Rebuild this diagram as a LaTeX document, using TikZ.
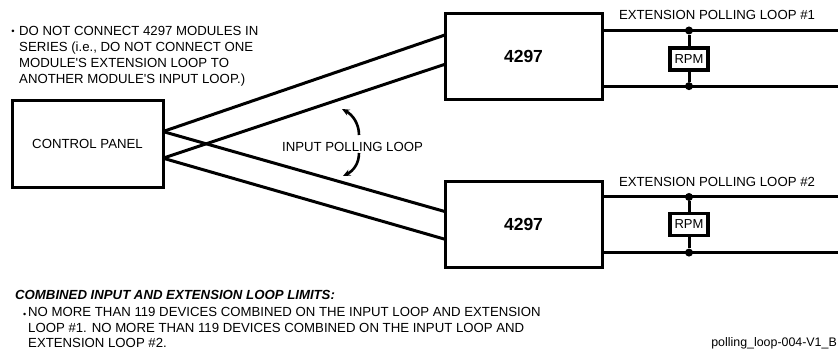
\documentclass[tikz,border=0pt]{standalone}
\usepackage{fontspec}
\setmainfont{Liberation Sans}
\usetikzlibrary{arrows.meta}
\begin{document}
\begin{tikzpicture}[x=1pt,y=-1pt,
  txt/.style={font=\fontsize{13.2}{16}\selectfont, inner sep=0pt},
  box/.style={draw, line width=3pt, outer sep=0pt, inner sep=0pt, font=\fontsize{13.2}{16}\selectfont},
  modbox/.style={box, minimum width=157pt, minimum height=86pt, font=\fontsize{17.5}{20}\selectfont\bfseries},
  rpmbox/.style={box, line width=3.2pt, fill=white, minimum width=38pt, minimum height=22pt, font=\fontsize{13}{14}\selectfont},
  wire/.style={line width=3pt},
  dot/.style={circle, fill, inner sep=0pt, minimum size=8pt},
  turn/.style={line width=2.6pt, -{Stealth[length=7.5pt,width=6.5pt]}}]
\useasboundingbox (0,0) rectangle (838,351);

% top note
\node[txt, anchor=north west, align=left] (note) at (19,26.3)
  {\llap{\raisebox{1.5pt}{\fontsize{9.5}{10}\selectfont •}\hspace{4.5pt}}DO NOT CONNECT 4297 MODULES IN\\
   SERIES (i.e., DO NOT CONNECT ONE\\
   MODULE\textquotesingle S EXTENSION LOOP TO\\
   ANOTHER MODULE\textquotesingle S INPUT LOOP.)};

% nodes
\node[box, minimum width=151pt, minimum height=87pt] (cp) at (87.5,143.5) {CONTROL PANEL};
\node[modbox] (m1) at (523.5,56) {4297};
\node[modbox] (m2) at (523.5,224) {4297};
\coordinate (redge) at (838,0);

% input loop wires
\draw[wire] (cp.9.4) -- (m1.165.7);
\draw[wire] (cp.-11.6) -- (m1.186.5);
\draw[wire] (cp.9.4) -- (m2.171.3);
\draw[wire] (cp.-11.6) -- (m2.191.5);

% extension loop 1
\draw[wire] (m1.18.3) -- (m1.18.3 -| redge);
\draw[wire] (m1.-21.5) -- (m1.-21.5 -| redge);
\node[rpmbox] (rpm1) at (689,59) {RPM};
\node[dot] (d1a) at (m1.18.3 -| rpm1) {};
\node[dot] (d1b) at (m1.-21.5 -| rpm1) {};
\draw[wire] (d1a) -- (rpm1);
\draw[wire] (rpm1) -- (d1b);
\node[txt] (ext1) at (717,15) {EXTENSION POLLING LOOP \#1};

% extension loop 2
\draw[wire] (m2.19.6) -- (m2.19.6 -| redge);
\draw[wire] (m2.-20.3) -- (m2.-20.3 -| redge);
\node[rpmbox] (rpm2) at (689,224.5) {RPM};
\node[dot] (d2a) at (m2.19.6 -| rpm2) {};
\node[dot] (d2b) at (m2.-20.3 -| rpm2) {};
\draw[wire] (d2a) -- (rpm2);
\draw[wire] (rpm2) -- (d2b);
\node[txt] (ext2) at (717,182) {EXTENSION POLLING LOOP \#2};

% input polling loop label with arrows
\node[txt] (ipl) at (352.5,147) {INPUT POLLING LOOP};
\coordinate (au0) at (359,135);
\coordinate (au1) at (342,109);
\coordinate (al0) at (359,153);
\coordinate (al1) at (343,176);
\draw[turn] (au0) .. controls (359,124) and (353,115) .. (au1);
\draw[turn] (al0) .. controls (359,164) and (353,171) .. (al1);

% bottom notes
\node[txt, anchor=base west] (lim) at (15,299.7)
  {\bfseries\itshape COMBINED INPUT AND EXTENSION LOOP LIMITS:};
\node[txt, anchor=north west, align=left, font=\fontsize{13.2}{15.6}\selectfont] (lims) at (28,307.3)
  {\llap{\raisebox{-0.5pt}{\fontsize{9}{9}\selectfont •}\hspace{2pt}}NO MORE THAN 119 DEVICES COMBINED ON THE INPUT LOOP AND EXTENSION\\
   LOOP \#1. NO MORE THAN 119 DEVICES COMBINED ON THE INPUT LOOP AND\\
   EXTENSION LOOP \#2.};
\node[txt, anchor=base east, font=\fontsize{12.4}{14}\selectfont] (fname) at (837,346.5) {polling\_loop-004-V1\_B};
\end{tikzpicture}
\end{document}
